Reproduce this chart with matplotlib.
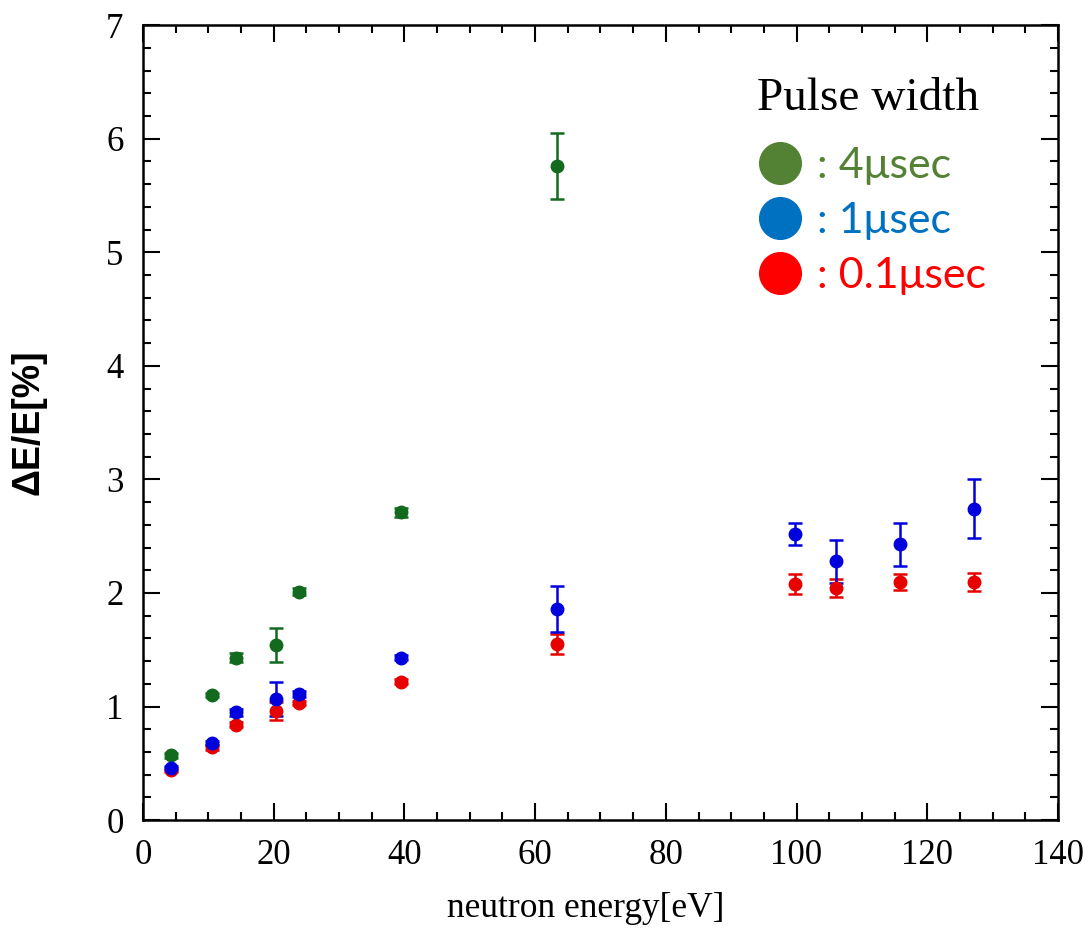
import matplotlib.pyplot as plt
from matplotlib.lines import Line2D
from matplotlib.ticker import MultipleLocator

# resonance energies [eV] and resolution dE/E [%]
e_green = [4.3, 10.5, 14.2, 20.3, 23.8, 39.5, 63.4]
r_green = [0.57, 1.10, 1.43, 1.54, 2.01, 2.71, 5.76]
err_green = [0.02, 0.02, 0.04, 0.15, 0.03, 0.04, 0.29]

e_all = [4.3, 10.5, 14.2, 20.3, 23.8, 39.5, 63.4, 99.8, 106.0, 115.8, 127.1]
r_blue = [0.46, 0.68, 0.95, 1.07, 1.11, 1.43, 1.86, 2.52, 2.28, 2.43, 2.74]
err_blue = [0.02, 0.02, 0.03, 0.15, 0.03, 0.02, 0.20, 0.10, 0.19, 0.19, 0.26]
r_red = [0.44, 0.64, 0.84, 0.96, 1.03, 1.22, 1.55, 2.08, 2.04, 2.10, 2.10]
err_red = [0.02, 0.02, 0.02, 0.08, 0.02, 0.02, 0.09, 0.09, 0.08, 0.07, 0.08]

legend_labels = [": 4\u03bcsec", ": 1\u03bcsec", ": 0.1\u03bcsec"]
legend_colors = ["#548235", "#0070C0", "#FF0000"]

fig = plt.figure(figsize=(10.89, 9.34), dpi=100)
ax = fig.add_axes([0.1313, 0.122, 0.8402, 0.851])

kw = dict(fmt="o", markersize=9, elinewidth=1.8, capsize=5, capthick=1.8)
ax.errorbar(e_green, r_green, yerr=err_green, color="#116a1e", **kw)
ax.errorbar(e_all, r_red, yerr=err_red, color="#e60000", **kw)
ax.errorbar(e_all, r_blue, yerr=err_blue, color="#0000dd", **kw)

ax.set_xlim(0, 140)
ax.set_ylim(0, 7)
ax.xaxis.set_major_locator(MultipleLocator(20))
ax.xaxis.set_minor_locator(MultipleLocator(5))
ax.yaxis.set_major_locator(MultipleLocator(1))
ax.yaxis.set_minor_locator(MultipleLocator(0.2))
ax.tick_params(which="both", direction="in", top=True, right=True, width=1.5)
ax.tick_params(which="major", length=12, pad=14, labelsize=25)
ax.tick_params(which="minor", length=6)
for s in ax.spines.values():
    s.set_linewidth(1.8)
for lab in ax.get_xticklabels() + ax.get_yticklabels():
    lab.set_fontfamily("Liberation Serif")

ax.set_xlabel("neutron energy[eV]", fontfamily="Liberation Serif", fontsize=25.5)
ax.xaxis.set_label_coords(0.484, -0.09)
ax.set_ylabel("\u0394E/E[%]", fontfamily="Liberation Sans", fontweight="bold", fontsize=27)
ax.yaxis.set_label_coords(-0.105, 0.5)

ax.text(0.671, 0.907, "Pulse width", transform=ax.transAxes, va="center", ha="left",
        fontfamily="Liberation Serif", fontsize=34)

handles = [Line2D([], [], ls="none", marker="o", markersize=30, color=c) for c in legend_colors]
leg = ax.legend(handles, legend_labels, loc="upper left", bbox_to_anchor=(0.673, 0.847),
                frameon=False, handlelength=1.0, handletextpad=0.35, labelspacing=0.4,
                borderpad=0, borderaxespad=0, prop={"family": "Lato", "size": 31})
for t, c in zip(leg.get_texts(), legend_colors):
    t.set_color(c)

fig.savefig("out.png", dpi=100)
